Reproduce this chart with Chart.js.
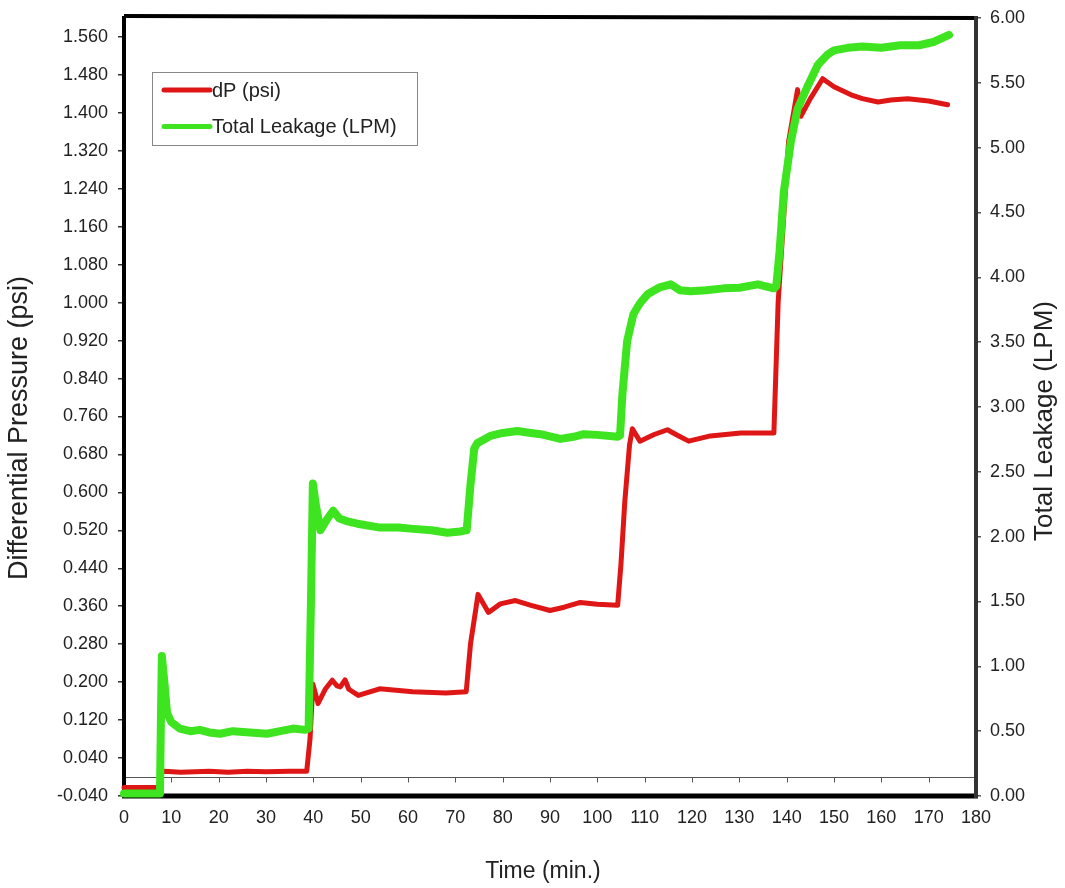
<!DOCTYPE html>
<html><head><meta charset="utf-8">
<script src="https://cdn.jsdelivr.net/npm/chart.js@4.4.1/dist/chart.umd.min.js"></script>
<style>html,body{margin:0;padding:0;background:#fff}#wrap{width:1065px;height:888px}</style>
</head><body><div id="wrap"><canvas id="c" width="1065" height="888"></canvas></div>
<script>
// ---- data ----
const timeDP = [0, 7.6, 7.9, 8.5, 12, 15, 18, 22, 26, 30, 35, 38.6, 39.3, 39.9, 41, 42.5, 44, 45, 45.7, 46.7, 47.5, 49.5, 54, 61, 68, 72.3, 73.2, 74.8, 77, 79.5, 82.7, 86, 90, 93, 96.4, 100, 104.3, 105, 105.8, 106.8, 107.4, 109, 112, 114.8, 117, 119.3, 123.9, 130.3, 137.3, 138.2, 140.4, 142.3, 143, 145, 147.6, 150, 153.6, 156, 159.3, 162, 165.6, 170, 174];
const dpValues = [-0.022, -0.022, 0.010, 0.012, 0.010, 0.011, 0.012, 0.010, 0.012, 0.011, 0.012, 0.012, 0.080, 0.196, 0.155, 0.185, 0.204, 0.192, 0.190, 0.205, 0.185, 0.172, 0.186, 0.180, 0.177, 0.180, 0.280, 0.385, 0.347, 0.365, 0.372, 0.362, 0.351, 0.358, 0.368, 0.364, 0.362, 0.450, 0.580, 0.700, 0.734, 0.708, 0.722, 0.732, 0.720, 0.708, 0.719, 0.725, 0.725, 1.000, 1.339, 1.449, 1.393, 1.430, 1.472, 1.455, 1.438, 1.430, 1.423, 1.427, 1.430, 1.425, 1.417];
const timeLeak = [0, 7.6, 7.8, 8.0, 8.6, 9.1, 10, 11.8, 14, 16, 18, 20.3, 23, 26.6, 30.2, 33, 35.7, 38.3, 39.0, 39.5, 39.9, 40.5, 41.5, 43, 44.2, 45.5, 47, 49.3, 54.1, 58, 61.1, 65, 68.3, 71, 72.4, 73.2, 74, 74.6, 77.4, 80, 83.1, 86, 88, 92.2, 95, 97.1, 100, 104.3, 104.8, 105.3, 106.3, 107.6, 109, 110.6, 113, 115.5, 117.5, 119.7, 123, 126.7, 130, 133.9, 137.3, 137.8, 138.5, 139.4, 140.9, 142.3, 144.5, 146.6, 148.7, 150, 152.9, 156, 160, 164, 168, 171, 174.3];
const leakValues = [0.02, 0.02, 0.60, 1.08, 0.85, 0.64, 0.57, 0.52, 0.50, 0.51, 0.49, 0.48, 0.50, 0.49, 0.48, 0.50, 0.52, 0.51, 0.52, 1.50, 2.41, 2.25, 2.05, 2.14, 2.20, 2.14, 2.12, 2.10, 2.07, 2.07, 2.06, 2.05, 2.03, 2.04, 2.05, 2.40, 2.68, 2.72, 2.777, 2.80, 2.815, 2.80, 2.79, 2.754, 2.77, 2.79, 2.785, 2.77, 2.78, 3.10, 3.508, 3.715, 3.80, 3.869, 3.92, 3.946, 3.90, 3.892, 3.90, 3.915, 3.92, 3.946, 3.915, 3.93, 4.20, 4.66, 5.05, 5.30, 5.48, 5.64, 5.72, 5.75, 5.77, 5.78, 5.77, 5.79, 5.79, 5.815, 5.87];
const xTickValues = [0, 10, 20, 30, 40, 50, 60, 70, 80, 90, 100, 110, 120, 130, 140, 150, 160, 170, 180];
const leftTickValues = [-0.04, 0.04, 0.12, 0.20, 0.28, 0.36, 0.44, 0.52, 0.60, 0.68, 0.76, 0.84, 0.92, 1.00, 1.08, 1.16, 1.24, 1.32, 1.40, 1.48, 1.56];
const rightTickValues = [0, 0.5, 1, 1.5, 2, 2.5, 3, 3.5, 4, 4.5, 5, 5.5, 6];
const seriesNames = ['dP (psi)', 'Total Leakage (LPM)'];
const axisTitles = {x: 'Time (min.)', y: 'Differential Pressure (psi)', y1: 'Total Leakage (LPM)'};

const RED = '#df1616';
const GREEN = '#3de41f';
const FONT = "'Liberation Sans', Arial, sans-serif";
const TXT = '#222';

const framePlugin = {
  id: 'frame',
  beforeDatasetsDraw(chart) {
    const {ctx, chartArea: a, scales} = chart;
    ctx.save();
    const y0 = Math.round(scales.y.getPixelForValue(0)) + 0.5;
    ctx.strokeStyle = '#555'; ctx.lineWidth = 1;
    ctx.beginPath(); ctx.moveTo(a.left, y0); ctx.lineTo(a.right, y0); ctx.stroke();
    xTickValues.forEach(v => {
      const x = Math.round(scales.x.getPixelForValue(v)) + 0.5;
      ctx.beginPath(); ctx.moveTo(x, y0); ctx.lineTo(x, y0 + 5); ctx.stroke();
    });
    ctx.strokeStyle = '#000';
    ctx.lineWidth = 4;
    ctx.beginPath(); ctx.moveTo(a.left, a.top - 2); ctx.lineTo(a.right + 2, a.top); ctx.stroke();
    ctx.beginPath(); ctx.moveTo(a.left, a.top - 2); ctx.lineTo(a.left, a.bottom + 2); ctx.stroke();
    ctx.lineWidth = 5;
    ctx.beginPath(); ctx.moveTo(a.left - 2, a.bottom); ctx.lineTo(a.right + 2, a.bottom); ctx.stroke();
    ctx.strokeStyle = '#333'; ctx.lineWidth = 4;
    ctx.beginPath(); ctx.moveTo(a.right, a.top - 2); ctx.lineTo(a.right, a.bottom + 2); ctx.stroke();
    ctx.restore();
  },
  afterDatasetsDraw(chart) {
    const {ctx} = chart;
    ctx.save();
    ctx.strokeStyle = '#888'; ctx.lineWidth = 1;
    ctx.fillStyle = '#fff';
    ctx.fillRect(152.5, 72.5, 265, 73);
    ctx.strokeRect(152.5, 72.5, 265, 73);
    const items = [[RED, 90, seriesNames[0]], [GREEN, 126.5, seriesNames[1]]];
    items.forEach(([col, y, label]) => {
      ctx.strokeStyle = col; ctx.lineWidth = 5; ctx.lineCap = 'round';
      ctx.beginPath(); ctx.moveTo(164, y); ctx.lineTo(210, y); ctx.stroke();
      ctx.fillStyle = TXT; ctx.font = '20px ' + FONT; ctx.textBaseline = 'middle';
      ctx.fillText(label, 212, y + 1);
    });
    ctx.fillStyle = TXT; ctx.textAlign = 'center'; ctx.textBaseline = 'middle';
    ctx.font = '23px ' + FONT;
    ctx.fillText(axisTitles.x, 543, 872);
    ctx.font = '27px ' + FONT;
    ctx.save(); ctx.translate(20, 428); ctx.rotate(-Math.PI / 2); ctx.fillText(axisTitles.y, 0, 0); ctx.restore();
    ctx.font = '26px ' + FONT;
    ctx.save(); ctx.translate(1045, 421); ctx.rotate(-Math.PI / 2); ctx.fillText(axisTitles.y1, 0, 0); ctx.restore();
    ctx.restore();
  }
};

const tickFont = {family: FONT, size: 18};

new Chart(document.getElementById('c'), {
  type: 'line',
  data: {
    datasets: [
      {label: seriesNames[0], data: timeDP.map((t, i) => ({x: t, y: dpValues[i]})), borderColor: RED, backgroundColor: RED,
       borderWidth: 5, pointRadius: 0, tension: 0, yAxisID: 'y', clip: 8, borderJoinStyle: 'round', borderCapStyle: 'round', order: 2},
      {label: seriesNames[1], data: timeLeak.map((t, i) => ({x: t, y: leakValues[i]})), borderColor: GREEN, backgroundColor: GREEN,
       borderWidth: 8, pointRadius: 0, tension: 0, yAxisID: 'y1', clip: 8, borderJoinStyle: 'round', borderCapStyle: 'round', order: 1}
    ]
  },
  options: {
    responsive: false, animation: false, devicePixelRatio: 1,
    layout: {padding: {top: 18, left: 0, right: 0, bottom: 0}},
    plugins: {legend: {display: false}, tooltip: {enabled: false}},
    scales: {
      x: {
        type: 'linear', position: 'bottom', min: 0, max: 180,
        afterBuildTicks: s => { s.ticks = xTickValues.map(v => ({value: v})); },
        afterFit: s => { s.height = 92; s.paddingLeft = 0; s.paddingRight = 0; },
        grid: {drawOnChartArea: false, drawTicks: false},
        border: {display: false},
        ticks: {font: tickFont, color: TXT, padding: 11, autoSkip: false, maxRotation: 0, callback: v => String(v)},
        title: {display: false}
      },
      y: {
        type: 'linear', position: 'left', min: -0.04, max: 1.6,
        afterBuildTicks: s => { s.ticks = leftTickValues.map(v => ({value: v})); },
        afterFit: s => { s.width = 124; s.paddingTop = 0; s.paddingBottom = 0; },
        grid: {drawOnChartArea: false, drawTicks: true, tickLength: 6, color: '#333', lineWidth: 1.5},
        border: {display: false},
        ticks: {font: tickFont, color: TXT, padding: 10, autoSkip: false, callback: v => Number(v).toFixed(3)},
        title: {display: false}
      },
      y1: {
        type: 'linear', position: 'right', min: 0, max: 6,
        afterBuildTicks: s => { s.ticks = rightTickValues.map(v => ({value: v})); },
        afterFit: s => { s.width = 89; s.paddingTop = 0; s.paddingBottom = 0; },
        grid: {drawOnChartArea: false, drawTicks: true, tickLength: 5, color: '#555', lineWidth: 1.5},
        border: {display: false},
        ticks: {font: tickFont, color: TXT, padding: 9, autoSkip: false, callback: v => Number(v).toFixed(2)},
        title: {display: false}
      }
    }
  },
  plugins: [framePlugin]
});
</script>
</body></html>
